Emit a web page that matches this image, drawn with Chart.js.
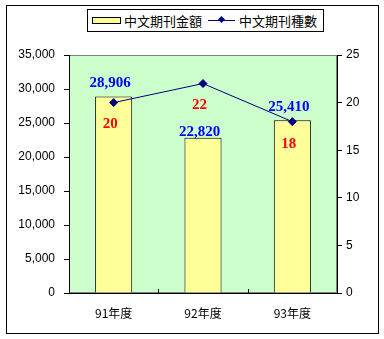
<!DOCTYPE html>
<html>
<head>
<meta charset="utf-8">
<script src="https://cdn.jsdelivr.net/npm/chart.js@4/dist/chart.umd.min.js"></script>
<style>
  html, body { margin: 0; padding: 0; background: #fff; }
  #wrap { position: relative; width: 384px; height: 339px; }
  #chart { position: absolute; left: 0; top: 0; }
  #legend {
    position: absolute; left: 87px; top: 9px; width: 235px; height: 21px;
    border: 1px solid #000; background: #fff;
    font: 13px "Noto Sans CJK TC", sans-serif; color: #000;
    display: flex; align-items: center; white-space: nowrap;
  }
  .sw-bar { display: inline-block; width: 27px; height: 5px; background: #ffff99; border: 1px solid #000; margin: 0 3px 0 4px; }
  .sw-line { position: relative; display: inline-block; width: 27px; height: 1px; background: #000080; margin: 0 4px 0 6px; }
  .sw-line i { position: absolute; left: 11px; top: -3px; width: 5px; height: 5px; background: #000080; transform: rotate(45deg); }
</style>
</head>
<body>
<div id="wrap">
  <canvas id="chart" width="384" height="339"></canvas>
  <div id="legend"></div>
</div>
<script>
// ─── Data ──────────────────────────────────────────────────────────────────
const years = ['91年度', '92年度', '93年度'];
const amounts = [28906, 22820, 25410];          // 中文期刊金額
const titles = [20, 22, 18];                      // 中文期刊種數
const amountLabel = '中文期刊金額';
const titleLabel = '中文期刊種數';

// how far each amount label sits above its bar (px)
const amountLabelLift = [13, 6, 13];

const fmt = (v) => v.toLocaleString('en-US');

// ─── Plugins ───────────────────────────────────────────────────────────────
const frame = {
  id: 'frame',
  beforeDraw(chart) {
    const { ctx, chartArea: a } = chart;
    ctx.save();
    ctx.fillStyle = '#fff';
    ctx.fillRect(0, 0, chart.width, chart.height);
    ctx.strokeStyle = '#000';
    ctx.lineWidth = 1;
    ctx.strokeRect(6.5, 5.5, 372, 328);
    ctx.fillStyle = '#ccffcc';
    ctx.fillRect(a.left, a.top, a.right - a.left, a.bottom - a.top);
    ctx.strokeStyle = '#808080';
    ctx.strokeRect(a.left + 0.5, a.top + 0.5, a.right - a.left - 1, a.bottom - a.top - 1);
    ctx.restore();
  },
  afterDraw(chart) {
    // category boundary ticks pointing up into the plot
    const { ctx, chartArea: a } = chart;
    const x = chart.scales.x;
    ctx.save();
    ctx.strokeStyle = '#000';
    ctx.lineWidth = 1;
    for (let i = 0; i < years.length - 1; i++) {
      const px = Math.round((x.getPixelForValue(i) + x.getPixelForValue(i + 1)) / 2) + 0.5;
      ctx.beginPath();
      ctx.moveTo(px, a.bottom);
      ctx.lineTo(px, a.bottom - 4);
      ctx.stroke();
    }
    ctx.restore();
  },
};

const valueLabels = {
  id: 'valueLabels',
  afterDatasetsDraw(chart) {
    const { ctx } = chart;
    ctx.save();
    ctx.font = 'bold 15px "Liberation Serif", serif';
    ctx.textAlign = 'center';
    ctx.textBaseline = 'middle';
    chart.getDatasetMeta(0).data.forEach((bar, i) => {
      ctx.fillStyle = '#0000ff';
      ctx.fillText(fmt(amounts[i]), bar.x - 3.5, bar.y - amountLabelLift[i]);
    });
    chart.getDatasetMeta(1).data.forEach((pt, i) => {
      ctx.fillStyle = '#ff0000';
      ctx.fillText(String(titles[i]), pt.x - 3.5, pt.y + 22);
    });
    ctx.restore();
  },
};

// ─── Chart ─────────────────────────────────────────────────────────────────
const tickFont = { family: '"Liberation Sans", sans-serif', size: 12 };

new Chart(document.getElementById('chart'), {
  data: {
    labels: years,
    datasets: [
      {
        type: 'bar',
        label: amountLabel,
        data: amounts,
        yAxisID: 'y',
        backgroundColor: '#ffff99',
        borderColor: '#000',
        borderWidth: 1,
        barPercentage: 0.415,
        categoryPercentage: 1,
        order: 2,
      },
      {
        type: 'line',
        label: titleLabel,
        data: titles,
        yAxisID: 'y1',
        borderColor: '#000080',
        borderWidth: 1,
        pointStyle: 'rectRot',
        pointRadius: 4,
        pointBackgroundColor: '#000080',
        pointBorderColor: '#000080',
        tension: 0,
        order: 1,
      },
    ],
  },
  options: {
    responsive: false,
    animation: false,
    layout: { padding: { top: 55, left: 0, right: 0, bottom: 0 } },
    plugins: { legend: { display: false }, tooltip: { enabled: false } },
    scales: {
      x: {
        offset: true,
        grid: { display: false },
        border: { display: true, color: '#000' },
        ticks: { color: '#000', padding: 5, font: { family: '"Noto Sans CJK TC", sans-serif', size: 12 } },
        afterFit: (s) => { s.height = 46; },
      },
      y: {
        position: 'left',
        min: 0,
        max: 35000,
        grid: { drawOnChartArea: false, drawTicks: true, tickLength: 5, color: '#000' },
        border: { display: true, color: '#000' },
        ticks: { stepSize: 5000, color: '#000', padding: 9, font: tickFont, callback: (v) => fmt(v) },
        afterFit: (s) => { s.width = 69; },
      },
      y1: {
        position: 'right',
        min: 0,
        max: 25,
        grid: { drawOnChartArea: false, drawTicks: true, tickLength: 5, color: '#000' },
        border: { display: true, color: '#000' },
        ticks: { stepSize: 5, color: '#000', padding: 4, font: tickFont },
        afterFit: (s) => { s.width = 47; },
      },
    },
  },
  plugins: [frame, valueLabels],
});

// Legend
document.getElementById('legend').innerHTML =
  `<span class="sw-bar"></span><span>${amountLabel}</span>` +
  `<span class="sw-line"><i></i></span><span>${titleLabel}</span>`;
</script>
</body>
</html>
